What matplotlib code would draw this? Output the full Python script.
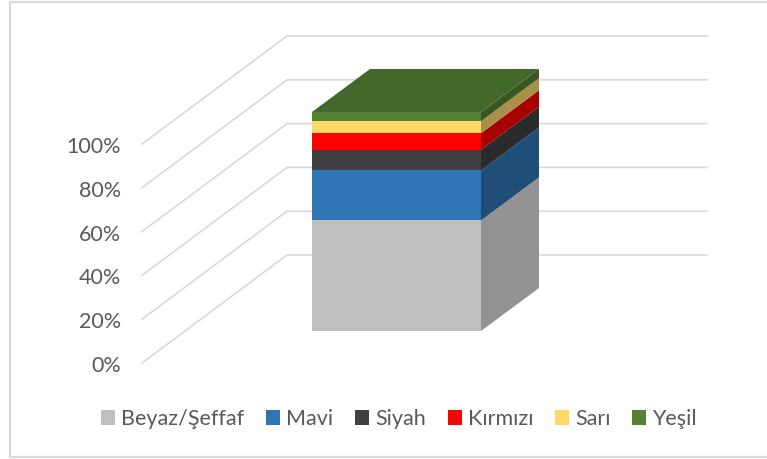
import matplotlib.pyplot as plt
from matplotlib.patches import Polygon, Rectangle

plt.rcParams['font.family'] = ['Lato', 'DejaVu Sans']

series = ['Beyaz/Şeffaf', 'Mavi', 'Siyah', 'Kırmızı', 'Sarı', 'Yeşil']
values = [50.5, 22.8, 9.5, 7.5, 5.5, 4.2]
front_colors = ['#BFBFBF', '#2E75B6', '#404040', '#FF0000', '#FFD966', '#548235']
side_colors = ['#939393', '#1F4E79', '#2B2B2B', '#A80000', '#A89048', '#385723']
top_color = '#43682B'
ticks = [0, 20, 40, 60, 80, 100]
tick_labels = ['0%', '20%', '40%', '60%', '80%', '100%']

W, H = 767, 459
# y axis is in percent, 0% sits at pixel row 331 of the bar front
px_per_pct = 2.19
base_row = 331

fig = plt.figure(figsize=(W / 100, H / 100), dpi=100)
ax = fig.add_axes([0, 0, 1, 1])
ax.set_xlim(0, W)
ax.set_ylim((base_row - H) / px_per_pct, base_row / px_per_pct)
ax.axis('off')

# chart frame, right edge is cut off by the image
frame = Rectangle((10, (base_row - 456.5) / px_per_pct), 780, 455 / px_per_pct,
                  fc='white', ec='#D9D9D9', lw=1.6)
ax.add_patch(frame)

# gridlines run over the side wall and then the back wall
wall_front = -32 / px_per_pct
wall_back = 76 / px_per_pct
for t in ticks:
    ax.plot([142, 287, 707], [t + wall_front, t + wall_back, t + wall_back],
            color='#D9D9D9', lw=1.2, zorder=1)

# bar
x0, x1 = 312, 481
dx, dy = 58, 43 / px_per_pct
bottom = 0
for v, fc, sc in zip(values, front_colors, side_colors):
    top = bottom + v
    ax.add_patch(Rectangle((x0, bottom), x1 - x0, v, fc=fc, ec='none', zorder=3))
    ax.add_patch(Polygon([(x1, bottom), (x1 + dx, bottom + dy), (x1 + dx, top + dy), (x1, top)],
                         fc=sc, ec='none', zorder=3))
    bottom = top
ax.add_patch(Polygon([(x0, bottom), (x1, bottom), (x1 + dx, bottom + dy), (x0 + dx, bottom + dy)],
                     fc=top_color, ec='none', zorder=3))

# value labels
for t, lab in zip(ticks, tick_labels):
    ax.text(121, t + wall_front - 3 / px_per_pct, lab, ha='right', va='center',
            fontsize=15.5, color='#595959')

# legend
handles = [Rectangle((0, 0), 1, 1, fc=c, ec='none') for c in front_colors]
leg = ax.legend(handles, series, loc='center', bbox_to_anchor=(399 / W, 1 - 419 / H), ncol=6,
                frameon=False, fontsize=15.5, labelcolor='#595959', handlelength=0.66,
                handleheight=0.66, handletextpad=0.28, columnspacing=1.0)

fig.savefig('out.png', dpi=100)
